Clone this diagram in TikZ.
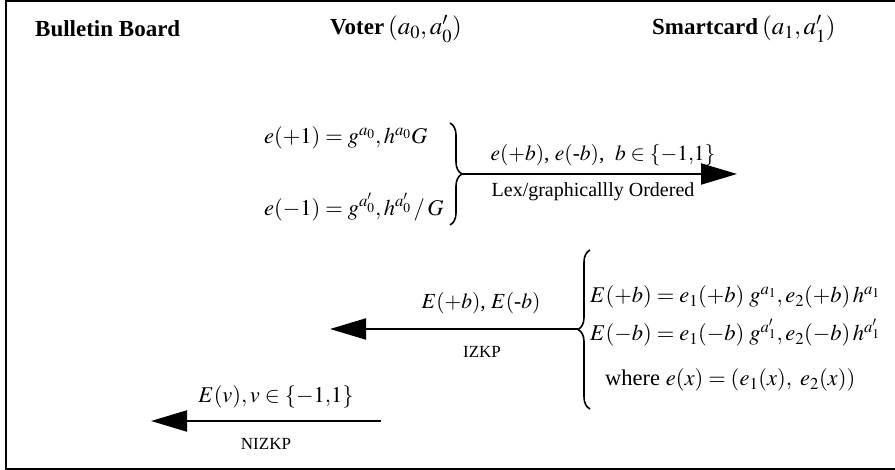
\documentclass[tikz,border=0pt]{standalone}
\usepackage{mathptmx}
\usepackage[no-math]{fontspec}
\setmainfont{Liberation Serif}
\usetikzlibrary{arrows.meta,decorations.pathreplacing}
\begin{document}
\begin{tikzpicture}[x=1pt,y=-1pt,
  lbl/.style={inner sep=0pt,font=\fontsize{20}{24}\selectfont},
  mlbl/.style={inner sep=0pt,font=\fontsize{21.5}{25}\selectfont},
  form/.style={inner sep=0pt,font=\fontsize{22.5}{27}\selectfont},
  hdr/.style={inner sep=0pt,font=\fontsize{23}{27}\selectfont},
  small/.style={inner sep=0pt,font=\fontsize{17}{20}\selectfont},
  arr/.style={line width=2pt,-{Triangle[length=36pt,width=21pt]}},
  brc/.style={decorate,decoration={brace,amplitude=12pt},line width=1.6pt},
  frame/.style={line width=2.2pt}]
\useasboundingbox (0,0) rectangle (895,470);
% frame
\coordinate (ftr) at (896,1);
\coordinate (ftl) at (6,1);
\coordinate (fbl) at (6,469);
\coordinate (fbr) at (896,469);
\draw[frame] (ftr) -- (ftl) -- (fbl) -- (fbr);
% headers
\node[hdr,anchor=west] (bb) at (35,29) {\bfseries Bulletin Board};
\node[hdr,anchor=west] (voter) at (330,29) {\bfseries Voter\,{\fontsize{25}{29}\selectfont$(a_0, a_0')$}};
\node[hdr,anchor=west] (sc) at (652,29) {\bfseries Smartcard\,{\fontsize{25}{29}\selectfont$(a_1, a_1')$}};
% voter formulas
\node[form,anchor=west] (ep) at (264,138) {$e(+1) = g^{a_0}, h^{a_0}G$};
\node[form,anchor=west] (em) at (264,207) {$e(-1) = g^{a_0'}, h^{a_0'}\,/\,G$};
\coordinate (b1t) at (450,123);
\coordinate (b1b) at (450,225);
\draw[brc] (b1t) -- (b1b);
\coordinate (tip1) at (462,174);
\coordinate (a1end) at (737,174);
\draw[arr] (tip1) -- (a1end);
\node[mlbl] (l1a) at (603,155) {$e(+b)$, $e(\mbox{-}b)$, \ $b \in \{-1,\!1\}$};
\node[lbl] (l1b) at (593,192) {Lex/graphicallly Ordered};
% smartcard formulas
\coordinate (b2b) at (590,409);
\coordinate (b2t) at (590,250);
\draw[brc] (b2b) -- (b2t);
\node[form,anchor=west] (Ep) at (590,297) {$E(+b) = e_1(+b)\; g^{a_1}, e_2(+b)\, h^{a_1}$};
\node[form,anchor=west] (Em) at (590,333) {$E(-b) = e_1(-b)\; g^{a_1'}, e_2(-b)\, h^{a_1'}$};
\node[form,anchor=west] (wh) at (605,380) {where $e(x) = (e_1(x),\ e_2(x))$};
\coordinate (tip2) at (578,329);
\coordinate (a2end) at (330,329);
\draw[arr] (tip2) -- (a2end);
\node[mlbl] (l2a) at (481,303) {$E(+b)$, $E(\mbox{-}b)$};
\node[small] (l2b) at (482,352) {IZKP};
% voter to bulletin board
\coordinate (a3start) at (381,421);
\coordinate (a3end) at (151,421);
\draw[arr] (a3start) -- (a3end);
\node[form] (l3a) at (276,397) {$E(v), v \in \{-1,\!1\}$};
\node[small] (l3b) at (266,444) {NIZKP};
\end{tikzpicture}
\end{document}
